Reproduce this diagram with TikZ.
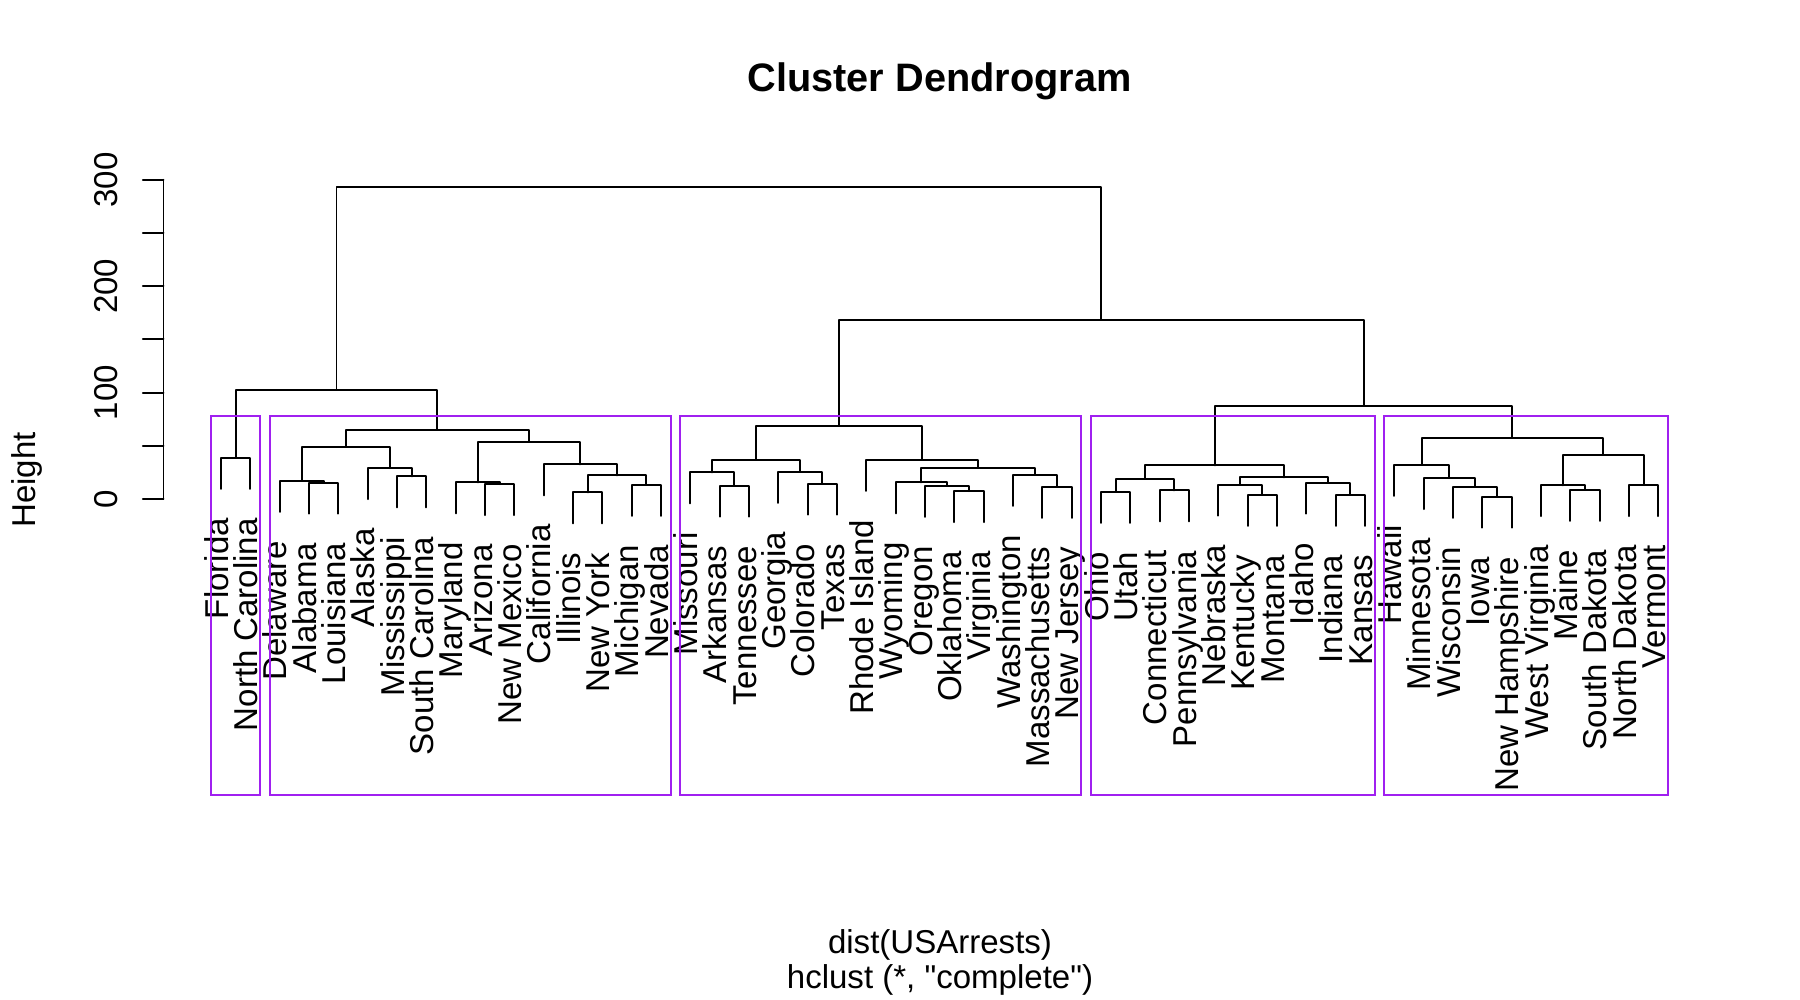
\documentclass[tikz,border=0pt]{standalone}
\usepackage{fontspec}
\setmainfont{Liberation Sans}
\newfontfamily\plainsans{Liberation Sans}
\begin{document}
\begin{tikzpicture}[
  every node/.style={font=\fontsize{9.4}{11}\selectfont, inner sep=0pt},
  tree/.style={line width=0.56pt, line cap=round, line join=round},
  lab/.style={rotate=90, anchor=base east},
  boxc/.style={draw={rgb,255:red,160;green,32;blue,240}, line width=0.56pt},
  ticklab/.style={rotate=90, anchor=base}
]
\useasboundingbox (0,0) rectangle (18,-10);

% title and axis titles
\node[anchor=base, font=\fontsize{11.3}{13}\selectfont\bfseries] (title) at (9.395,-0.92) {Cluster Dendrogram};
\node[anchor=base] (xlab) at (9.40,-9.54) {dist(USArrests)};
\node[anchor=base, font=\fontsize{9.4}{11}\selectfont\plainsans] (sub) at (9.40,-9.885) {hclust (*, "complete")};
\node[rotate=90, anchor=base] (ylab) at (0.35,-4.80) {Height};

\begin{scope}[shift={(1.9167,-4.99)}, x=0.2933cm, y=0.010633cm]
  % axis
  \draw[tree] (-0.96,0) -- (-0.96,300);
  \foreach \t in {0,50,...,300} {
    \coordinate (tk\t) at (-0.96,\t);
    \draw[tree] (tk\t) -- ++(-0.207cm,0);
  }
  \foreach \t in {0,100,200,300} {
    \node[ticklab] (tl\t) at ([xshift=-0.46cm]tk\t) {\t};
  }

  % leaves
  \foreach \i/\h/\t in {1/38.53/Florida, 2/38.53/North Carolina, 3/16.9/Delaware, 4/15.45/Alabama, 5/15.45/Louisiana, 6/28.9/Alaska, 7/21.17/Mississippi, 8/21.17/South Carolina, 9/15.7/Maryland, 10/13.9/Arizona, 11/13.9/New Mexico, 12/32.6/California, 13/6.24/Illinois, 14/6.24/New York, 15/13.3/Michigan, 16/13.3/Nevada, 17/25.1/Missouri, 18/12.61/Arkansas, 19/12.61/Tennessee, 20/25.4/Georgia, 21/14.5/Colorado, 22/14.5/Texas, 23/36.7/Rhode Island, 24/15.7/Wyoming, 25/12.2/Oregon, 26/7.36/Oklahoma, 27/7.36/Virginia, 28/22.6/Washington, 29/11.46/Massachusetts, 30/11.46/New Jersey, 31/6.64/Ohio, 32/6.64/Utah, 33/8.03/Connecticut, 34/8.03/Pennsylvania, 35/13.5/Nebraska, 36/3.83/Kentucky, 37/3.83/Montana, 38/15.4/Idaho, 39/3.93/Indiana, 40/3.93/Kansas, 41/32.0/Hawaii, 42/19.7/Minnesota, 43/11.3/Wisconsin, 44/2.29/Iowa, 45/2.29/New Hampshire, 46/12.9/West Virginia, 47/8.54/Maine, 48/8.54/South Dakota, 49/13.04/North Dakota, 50/13.04/Vermont} {
    \coordinate (l\i) at ({\i},{\h-29.13});
    \node[lab] (L\i) at ([xshift=0.073cm,yshift=-0.285cm]l\i) {\t};
  }

  % internal merges
  \coordinate (a1) at (1.5,38.53);
  \coordinate (a2) at (4.5,15.45);
  \coordinate (a3) at (3.75,16.9);
  \coordinate (a4) at (7.5,21.17);
  \coordinate (a5) at (6.75,28.9);
  \coordinate (a6) at (5.25,48.9);
  \coordinate (a7) at (10.5,13.9);
  \coordinate (a8) at (9.75,15.7);
  \coordinate (a9) at (13.5,6.24);
  \coordinate (a10) at (15.5,13.3);
  \coordinate (a11) at (14.5,22.3);
  \coordinate (a12) at (13.25,32.6);
  \coordinate (a13) at (11.5,53.9);
  \coordinate (a14) at (8.375,64.9);
  \coordinate (a15) at (4.9375,102.86);
  \coordinate (b1) at (18.5,12.61);
  \coordinate (b2) at (17.75,25.1);
  \coordinate (b3) at (21.5,14.5);
  \coordinate (b4) at (20.75,25.4);
  \coordinate (b5) at (19.25,37.0);
  \coordinate (b6) at (26.5,7.36);
  \coordinate (b7) at (25.75,12.2);
  \coordinate (b8) at (24.875,15.7);
  \coordinate (b9) at (29.5,11.46);
  \coordinate (b10) at (28.75,22.6);
  \coordinate (b11) at (26.8125,29.2);
  \coordinate (b12) at (24.90625,36.7);
  \coordinate (b13) at (22.078125,68.76);
  \coordinate (c1) at (31.5,6.64);
  \coordinate (c2) at (33.5,8.03);
  \coordinate (c3) at (32.5,18.8);
  \coordinate (c4) at (36.5,3.83);
  \coordinate (c5) at (35.75,13.5);
  \coordinate (c6) at (39.5,3.93);
  \coordinate (c7) at (38.75,15.4);
  \coordinate (c8) at (37.25,20.4);
  \coordinate (c9) at (34.875,31.7);
  \coordinate (d1) at (44.5,2.29);
  \coordinate (d2) at (43.75,11.3);
  \coordinate (d3) at (42.875,19.7);
  \coordinate (d4) at (41.9375,32.0);
  \coordinate (d5) at (47.5,8.54);
  \coordinate (d6) at (46.75,12.9);
  \coordinate (d7) at (49.5,13.04);
  \coordinate (d8) at (48.125,41.4);
  \coordinate (d9) at (45.03125,57.4);
  \coordinate (e1) at (39.953125,87.5);
  \coordinate (e2) at (31.015625,168.61);
  \coordinate (r) at (17.9765625,293.62);

  \begin{scope}[tree]
  \draw (l1) |- (a1) -| (l2);
  \draw (l4) |- (a2) -| (l5);
  \draw (l3) |- (a3) -| (a2);
  \draw (l7) |- (a4) -| (l8);
  \draw (l6) |- (a5) -| (a4);
  \draw (a3) |- (a6) -| (a5);
  \draw (l10) |- (a7) -| (l11);
  \draw (l9) |- (a8) -| (a7);
  \draw (l13) |- (a9) -| (l14);
  \draw (l15) |- (a10) -| (l16);
  \draw (a9) |- (a11) -| (a10);
  \draw (l12) |- (a12) -| (a11);
  \draw (a8) |- (a13) -| (a12);
  \draw (a6) |- (a14) -| (a13);
  \draw (a1) |- (a15) -| (a14);
  \draw (l18) |- (b1) -| (l19);
  \draw (l17) |- (b2) -| (b1);
  \draw (l21) |- (b3) -| (l22);
  \draw (l20) |- (b4) -| (b3);
  \draw (b2) |- (b5) -| (b4);
  \draw (l26) |- (b6) -| (l27);
  \draw (l25) |- (b7) -| (b6);
  \draw (l24) |- (b8) -| (b7);
  \draw (l29) |- (b9) -| (l30);
  \draw (l28) |- (b10) -| (b9);
  \draw (b8) |- (b11) -| (b10);
  \draw (l23) |- (b12) -| (b11);
  \draw (b5) |- (b13) -| (b12);
  \draw (l31) |- (c1) -| (l32);
  \draw (l33) |- (c2) -| (l34);
  \draw (c1) |- (c3) -| (c2);
  \draw (l36) |- (c4) -| (l37);
  \draw (l35) |- (c5) -| (c4);
  \draw (l39) |- (c6) -| (l40);
  \draw (l38) |- (c7) -| (c6);
  \draw (c5) |- (c8) -| (c7);
  \draw (c3) |- (c9) -| (c8);
  \draw (l44) |- (d1) -| (l45);
  \draw (l43) |- (d2) -| (d1);
  \draw (l42) |- (d3) -| (d2);
  \draw (l41) |- (d4) -| (d3);
  \draw (l47) |- (d5) -| (l48);
  \draw (l46) |- (d6) -| (d5);
  \draw (l49) |- (d7) -| (l50);
  \draw (d6) |- (d8) -| (d7);
  \draw (d4) |- (d9) -| (d8);
  \draw (c9) |- (e1) -| (d9);
  \draw (b13) |- (e2) -| (e1);
  \draw (a15) |- (r) -| (e2);
  \end{scope}

  % cluster boxes
  \draw[boxc] (0.66,78.13) rectangle (2.33,-278);
  \draw[boxc] (2.66,78.13) rectangle (16.33,-278);
  \draw[boxc] (16.66,78.13) rectangle (30.33,-278);
  \draw[boxc] (30.66,78.13) rectangle (40.33,-278);
  \draw[boxc] (40.66,78.13) rectangle (50.33,-278);
\end{scope}
\end{tikzpicture}
\end{document}
